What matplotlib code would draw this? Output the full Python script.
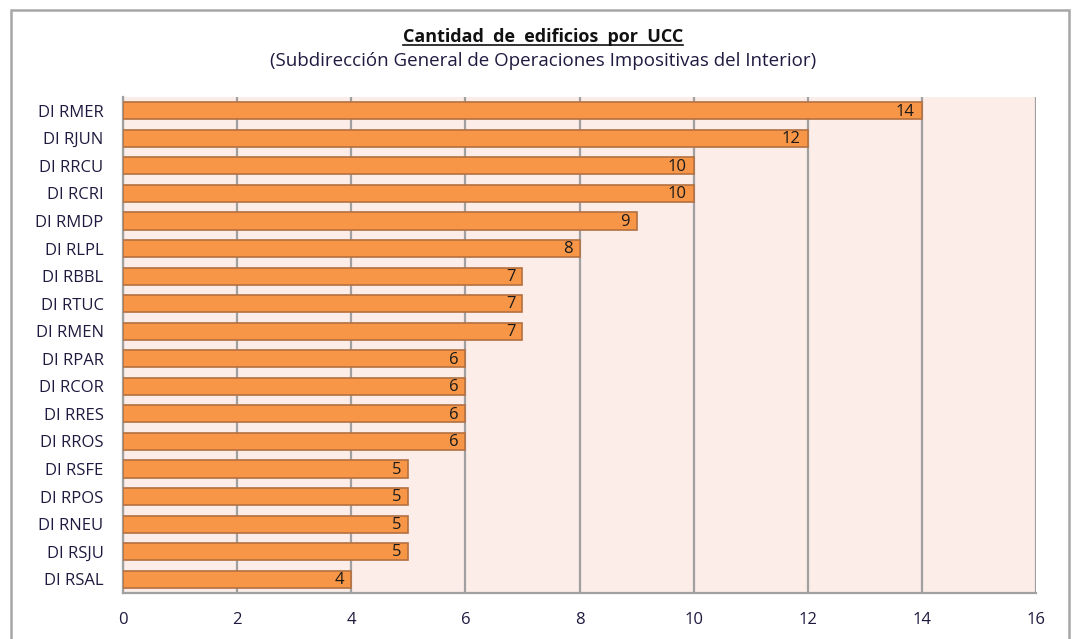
import matplotlib.pyplot as plt
from matplotlib.patches import Rectangle
from matplotlib.lines import Line2D

# Data
labels = ['DI RMER', 'DI RJUN', 'DI RRCU', 'DI RCRI', 'DI RMDP', 'DI RLPL',
          'DI RBBL', 'DI RTUC', 'DI RMEN', 'DI RPAR', 'DI RCOR', 'DI RRES',
          'DI RROS', 'DI RSFE', 'DI RPOS', 'DI RNEU', 'DI RSJU', 'DI RSAL']
values = [14, 12, 10, 10, 9, 8, 7, 7, 7, 6, 6, 6, 6, 5, 5, 5, 5, 4]
xticks = [0, 2, 4, 6, 8, 10, 12, 14, 16]

plt.rcParams['font.family'] = ['Open Sans', 'DejaVu Sans']

fig = plt.figure(figsize=(10.75, 6.39), dpi=100)
fig.patch.set_facecolor('white')

# outer chart frame (bottom edge runs off the picture)
frame = Rectangle((11 / 1075, -0.05), (1069 - 11) / 1075, 1.05 - 10 / 639,
                  transform=fig.transFigure, fill=False, edgecolor='#A6A6A6',
                  linewidth=1.8)
fig.patches.append(frame)

ax = fig.add_axes([123 / 1075, 46 / 639, (1036 - 123) / 1075, (593 - 97) / 639])
ax.set_facecolor('#FCEDE8')

pos = list(range(len(labels)))
ax.barh(pos, values, height=0.62, color='#F79646', edgecolor='#B5703F',
        linewidth=1.2, zorder=3)
for p, v in zip(pos, values):
    ax.text(v - 0.12, p + 0.03, str(v), ha='right', va='center', fontsize=12,
            color='#1A1A1A', zorder=4)

ax.set_ylim(len(labels) - 0.5, -0.5)
ax.set_xlim(0, 16)
ax.set_xticks(xticks)
ax.set_yticks(pos)
ax.set_yticklabels(labels)
ax.tick_params(axis='y', length=0, pad=14, labelsize=12, labelcolor='#1F1A3F')
ax.tick_params(axis='x', length=0, pad=14, labelsize=12, labelcolor='#1F1A3F')
ax.grid(axis='x', color='#A0A0A0', linewidth=1.6, zorder=1)
ax.set_axisbelow(True)
for s in ['top', 'right']:
    ax.spines[s].set_visible(False)
for s in ['left', 'bottom']:
    ax.spines[s].set_color('#A0A0A0')
    ax.spines[s].set_linewidth(1.6)

# title with underline
t = fig.text(543 / 1075, 1 - 37 / 639, 'Cantidad  de  edificios  por  UCC',
             ha='center', va='center', fontsize=13, fontweight='bold',
             color='#111111')
fig.text(543 / 1075, 1 - 61 / 639,
         '(Subdirección General de Operaciones Impositivas del Interior)',
         ha='center', va='center', fontsize=13.5, color='#1F1A3F')

fig.canvas.draw()
bb = t.get_window_extent().transformed(fig.transFigure.inverted())
fig.lines.append(Line2D([bb.x0, bb.x1], [bb.y0 + 0.002, bb.y0 + 0.002],
                        transform=fig.transFigure, color='#111111', linewidth=1.2))

fig.savefig('out.png', dpi=100)
